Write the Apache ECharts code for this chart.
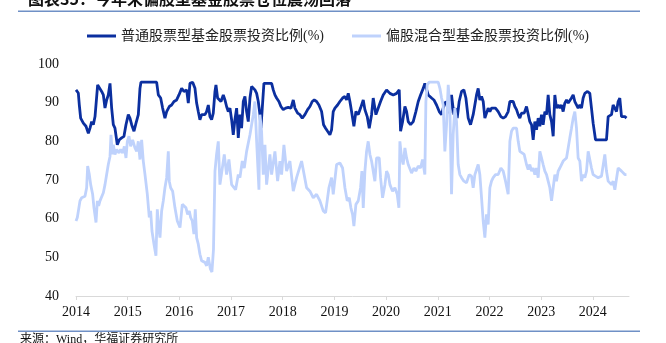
<!DOCTYPE html>
<html>
<head>
<meta charset="utf-8">
<script src="https://cdn.jsdelivr.net/npm/echarts@6/dist/echarts.min.js"></script>
<style>
  html, body { margin: 0; padding: 0; background: #fff; }
  #chart { width: 666px; height: 343px; }
</style>
</head>
<body>
<div id="chart"></div>
<script>
// Series names (legend)
const seriesNames = ['普通股票型基金股票投资比例(%)', '偏股混合型基金股票投资比例(%)'];

// Year ticks along the x axis
const yearTicks = [2014, 2015, 2016, 2017, 2018, 2019, 2020, 2021, 2022, 2023, 2024];

// Y axis range
const yMin = 40, yMax = 100, yStep = 10;

// 普通股票型基金股票投资比例 [decimal year, %]
const stockFundRatio = [
  [2014.000,93.3],[2014.045,92.5],[2014.064,89.4],[2014.090,86.0],[2014.142,84.7],[2014.193,83.9],
  [2014.239,82.1],[2014.271,83.4],[2014.303,85.1],[2014.335,84.3],[2014.368,86.4],[2014.400,86.9],
  [2014.419,94.6],[2014.451,94.8],[2014.496,92.9],[2014.529,92.0],[2014.561,88.6],[2014.593,90.7],
  [2014.625,92.0],[2014.658,95.0],[2014.690,88.6],[2014.722,84.3],[2014.754,83.4],[2014.799,79.1],
  [2014.838,80.4],[2014.883,80.9],[2014.928,81.3],[2014.967,84.3],[2015.012,86.9],[2015.044,86.0],
  [2015.077,84.3],[2015.122,82.6],[2015.161,84.7],[2015.206,86.9],[2015.238,93.7],[2015.257,95.3],
  [2015.560,95.3],[2015.593,92.0],[2015.638,91.2],[2015.676,88.6],[2015.721,86.0],[2015.754,87.7],
  [2015.805,89.0],[2015.850,89.4],[2015.896,90.3],[2015.947,90.7],[2015.992,92.0],[2016.044,93.7],
  [2016.089,92.9],[2016.141,93.3],[2016.173,89.9],[2016.205,95.0],[2016.257,95.3],[2016.302,93.7],
  [2016.334,89.9],[2016.366,87.7],[2016.398,85.6],[2016.431,86.9],[2016.495,86.9],[2016.527,87.7],
  [2016.560,89.4],[2016.592,86.4],[2016.624,85.6],[2016.656,87.3],[2016.689,92.9],[2016.708,94.6],
  [2016.740,91.2],[2016.766,91.6],[2016.805,90.3],[2016.850,92.0],[2016.882,90.7],[2016.914,89.0],
  [2016.946,87.7],[2016.979,88.6],[2017.011,85.6],[2017.043,81.7],[2017.075,85.6],[2017.108,88.6],
  [2017.140,80.9],[2017.172,86.9],[2017.204,83.4],[2017.237,90.3],[2017.269,91.6],[2017.301,87.7],
  [2017.333,85.1],[2017.366,91.2],[2017.398,94.2],[2017.430,93.7],[2017.462,93.3],[2017.495,92.4],
  [2017.527,90.3],[2017.559,86.9],[2017.578,83.4],[2017.604,88.6],[2017.636,95.0],[2017.785,95.0],
  [2017.817,93.3],[2017.849,92.0],[2017.881,91.2],[2017.926,90.3],[2017.965,89.0],[2018.010,88.2],
  [2018.056,88.6],[2018.107,88.8],[2018.159,88.6],[2018.204,90.7],[2018.236,88.6],[2018.288,87.3],
  [2018.333,86.9],[2018.378,86.0],[2018.429,86.9],[2018.481,88.2],[2018.526,89.0],[2018.571,90.3],
  [2018.610,90.7],[2018.655,90.3],[2018.700,89.4],[2018.752,87.7],[2018.790,84.3],[2018.829,83.4],
  [2018.868,82.6],[2018.913,81.7],[2018.945,83.0],[2018.977,87.7],[2019.010,88.6],[2019.061,89.4],
  [2019.106,90.3],[2019.158,91.2],[2019.203,91.6],[2019.235,90.7],[2019.268,92.4],[2019.300,90.3],
  [2019.332,87.7],[2019.377,83.9],[2019.416,87.7],[2019.461,86.9],[2019.506,88.6],[2019.558,90.7],
  [2019.590,88.2],[2019.635,86.4],[2019.674,83.4],[2019.719,86.9],[2019.751,91.2],[2019.803,86.9],
  [2019.848,88.6],[2019.893,90.3],[2019.944,92.0],[2020.009,93.3],[2020.074,92.4],[2020.138,92.0],
  [2020.203,92.4],[2020.254,93.3],[2020.280,82.6],[2020.319,85.1],[2020.364,89.0],[2020.396,87.7],
  [2020.428,85.1],[2020.473,84.3],[2020.525,85.1],[2020.576,87.7],[2020.622,90.3],[2020.667,92.0],
  [2020.718,93.7],[2020.750,95.0],[2020.783,95.0],[2020.815,92.0],[2020.847,92.4],[2020.880,91.2],
  [2020.925,90.7],[2020.976,89.4],[2021.028,87.7],[2021.073,86.9],[2021.105,88.6],[2021.157,90.3],
  [2021.202,89.4],[2021.234,87.3],[2021.266,92.0],[2021.311,86.9],[2021.350,88.6],[2021.376,86.0],
  [2021.414,90.3],[2021.460,92.9],[2021.505,93.3],[2021.544,91.2],[2021.589,86.0],[2021.634,84.3],
  [2021.685,86.9],[2021.750,92.0],[2021.782,93.7],[2021.814,90.7],[2021.847,91.6],[2021.879,90.3],
  [2021.911,86.0],[2021.943,87.3],[2021.975,88.6],[2022.008,87.7],[2022.040,88.6],[2022.072,88.2],
  [2022.117,88.6],[2022.169,87.7],[2022.221,86.4],[2022.266,86.0],[2022.311,86.4],[2022.362,87.7],
  [2022.395,90.3],[2022.427,90.7],[2022.459,90.3],[2022.491,89.0],[2022.524,88.2],[2022.556,86.9],
  [2022.588,86.0],[2022.620,87.3],[2022.672,87.3],[2022.717,89.0],[2022.749,88.6],[2022.781,85.1],
  [2022.814,84.3],[2022.846,80.4],[2022.878,85.1],[2022.910,83.0],[2022.943,86.0],[2022.975,83.9],
  [2023.007,86.9],[2023.039,84.3],[2023.072,87.7],[2023.104,86.9],[2023.136,92.0],[2023.168,86.9],
  [2023.201,85.1],[2023.233,81.3],[2023.265,92.0],[2023.297,88.6],[2023.330,89.4],[2023.362,88.6],
  [2023.394,89.4],[2023.426,87.7],[2023.458,89.9],[2023.491,90.7],[2023.523,89.9],[2023.555,89.4],
  [2023.587,91.2],[2023.620,92.0],[2023.652,90.3],[2023.684,90.7],[2023.716,88.6],[2023.749,89.4],
  [2023.781,88.6],[2023.813,91.2],[2023.845,92.4],[2023.897,92.9],[2023.942,92.4],[2023.974,88.6],
  [2024.006,84.7],[2024.052,80.4],[2024.264,80.4],[2024.297,86.4],[2024.329,86.0],[2024.361,86.9],
  [2024.393,89.4],[2024.426,88.6],[2024.458,87.7],[2024.490,90.3],[2024.522,91.2],[2024.555,86.4],
  [2024.587,86.0],[2024.619,86.4],[2024.651,86.0]
];

// 偏股混合型基金股票投资比例 [decimal year, %]
const mixedFundRatio = [
  [2014.000,59.4],[2014.026,60.3],[2014.058,60.7],[2014.077,64.6],[2014.110,65.4],[2014.142,65.0],
  [2014.174,65.8],[2014.206,68.0],[2014.226,73.6],[2014.258,71.4],[2014.284,68.8],[2014.322,66.3],
  [2014.348,62.8],[2014.387,59.0],[2014.413,64.6],[2014.438,63.3],[2014.464,64.6],[2014.496,65.0],
  [2014.529,66.7],[2014.561,68.8],[2014.593,71.4],[2014.625,74.0],[2014.658,76.1],[2014.677,81.7],
  [2014.703,76.6],[2014.722,79.1],[2014.754,76.6],[2014.787,77.9],[2014.832,77.0],[2014.864,77.9],
  [2014.903,77.0],[2014.935,78.7],[2014.967,75.7],[2014.993,80.0],[2015.025,81.3],[2015.057,78.7],
  [2015.096,80.4],[2015.141,78.3],[2015.174,77.4],[2015.206,80.0],[2015.238,75.3],[2015.270,80.4],
  [2015.302,74.9],[2015.335,71.4],[2015.380,66.3],[2015.418,60.3],[2015.444,62.0],[2015.470,56.8],
  [2015.509,53.4],[2015.547,50.4],[2015.573,62.4],[2015.599,57.7],[2015.625,55.1],[2015.657,62.0],
  [2015.689,64.6],[2015.721,68.0],[2015.754,70.6],[2015.786,77.4],[2015.805,69.7],[2015.831,68.0],
  [2015.870,67.1],[2015.915,62.8],[2015.960,59.4],[2016.012,57.7],[2016.057,63.7],[2016.089,64.1],
  [2016.128,62.8],[2016.160,61.1],[2016.192,62.0],[2016.218,60.3],[2016.250,59.4],[2016.282,56.0],
  [2016.308,62.4],[2016.334,55.1],[2016.366,53.4],[2016.398,50.8],[2016.431,49.1],[2016.463,49.5],
  [2016.495,48.7],[2016.527,47.8],[2016.560,50.0],[2016.600,47.0],[2016.630,46.2],[2016.660,52.0],
  [2016.689,72.3],[2016.720,76.6],[2016.753,80.0],[2016.785,68.8],[2016.869,76.6],[2016.914,71.4],
  [2016.959,75.3],[2017.011,68.8],[2017.088,67.5],[2017.140,71.4],[2017.172,70.6],[2017.217,74.9],
  [2017.256,73.1],[2017.301,77.4],[2017.366,81.7],[2017.430,86.9],[2017.462,90.3],[2017.495,80.0],
  [2017.540,67.5],[2017.559,86.9],[2017.591,82.6],[2017.623,71.4],[2017.656,79.1],[2017.688,68.8],
  [2017.752,76.6],[2017.785,71.4],[2017.849,77.4],[2017.901,69.7],[2017.946,74.9],[2017.978,71.4],
  [2018.023,79.1],[2018.075,72.3],[2018.139,74.9],[2018.204,67.1],[2018.268,70.6],[2018.365,74.9],
  [2018.462,68.0],[2018.526,67.1],[2018.591,65.4],[2018.655,66.3],[2018.720,64.6],[2018.784,62.0],
  [2018.829,61.5],[2018.894,68.0],[2018.945,70.6],[2018.977,66.3],[2019.042,74.0],[2019.106,74.4],
  [2019.158,73.1],[2019.203,68.0],[2019.248,64.6],[2019.287,65.4],[2019.319,62.8],[2019.351,61.1],
  [2019.377,58.1],[2019.416,63.7],[2019.461,64.6],[2019.506,68.0],[2019.532,72.3],[2019.558,62.8],
  [2019.590,72.3],[2019.622,77.4],[2019.654,80.0],[2019.687,76.6],[2019.719,74.9],[2019.751,75.3],
  [2019.783,69.7],[2019.816,75.7],[2019.867,75.7],[2019.893,70.6],[2019.932,65.4],[2019.977,68.8],
  [2020.009,72.3],[2020.041,71.4],[2020.074,68.8],[2020.125,67.1],[2020.170,68.0],[2020.215,66.3],
  [2020.248,62.8],[2020.267,80.0],[2020.299,75.7],[2020.331,74.0],[2020.364,78.3],[2020.396,75.7],
  [2020.428,74.0],[2020.460,74.0],[2020.493,71.8],[2020.538,73.1],[2020.576,72.3],[2020.622,73.6],
  [2020.667,73.1],[2020.705,75.3],[2020.750,71.4],[2020.770,90.3],[2020.796,94.6],[2020.834,95.3],
  [2021.008,95.3],[2021.041,93.7],[2021.073,91.2],[2021.105,89.4],[2021.137,77.4],[2021.170,84.3],
  [2021.202,94.6],[2021.234,88.6],[2021.266,66.3],[2021.298,81.7],[2021.331,88.6],[2021.363,85.1],
  [2021.395,74.0],[2021.427,71.4],[2021.460,70.6],[2021.505,69.7],[2021.556,69.3],[2021.608,71.4],
  [2021.653,71.0],[2021.685,68.0],[2021.718,71.4],[2021.750,72.7],[2021.782,74.0],[2021.814,71.4],
  [2021.847,65.4],[2021.879,59.4],[2021.911,55.1],[2021.943,61.1],[2021.975,58.5],[2022.008,68.0],
  [2022.040,69.7],[2022.072,70.6],[2022.117,71.4],[2022.169,71.4],[2022.221,73.1],[2022.266,72.3],
  [2022.311,69.7],[2022.362,66.3],[2022.395,80.0],[2022.427,82.6],[2022.459,83.4],[2022.491,83.9],
  [2022.524,83.4],[2022.556,80.0],[2022.588,77.4],[2022.620,77.0],[2022.672,76.6],[2022.717,74.0],
  [2022.749,72.7],[2022.781,74.0],[2022.814,72.3],[2022.846,73.1],[2022.878,71.4],[2022.910,73.1],
  [2022.943,70.6],[2022.975,77.4],[2023.007,75.7],[2023.039,74.0],[2023.072,72.3],[2023.104,71.4],
  [2023.136,69.7],[2023.168,68.0],[2023.201,64.6],[2023.233,68.0],[2023.265,71.4],[2023.297,69.7],
  [2023.330,72.3],[2023.362,73.1],[2023.394,74.0],[2023.426,74.9],[2023.458,75.3],[2023.491,75.7],
  [2023.523,78.3],[2023.555,80.9],[2023.587,83.4],[2023.620,86.0],[2023.652,87.7],[2023.684,83.4],
  [2023.716,75.7],[2023.749,74.9],[2023.781,69.7],[2023.813,71.4],[2023.845,70.6],[2023.878,72.3],
  [2023.910,77.4],[2023.942,77.9],[2023.974,73.1],[2024.006,71.4],[2024.052,71.0],[2024.103,70.6],
  [2024.168,71.0],[2024.232,76.6],[2024.264,72.3],[2024.297,69.7],[2024.329,69.3],[2024.361,68.8],
  [2024.393,69.7],[2024.426,67.5],[2024.458,67.1],[2024.490,73.1],[2024.522,72.7],[2024.555,72.3],
  [2024.587,71.8],[2024.619,71.4],[2024.651,71.4]
];

const DARK = '#0b2f9f';
const LIGHT = '#bfd2fc';
const RULE = '#6f90c6';
const FONT = "'Liberation Serif', 'Noto Sans CJK SC', serif";

const chart = echarts.init(document.getElementById('chart'), null, { renderer: 'canvas' });

chart.setOption({
  animation: false,
  backgroundColor: '#ffffff',
  textStyle: { fontFamily: FONT },
  graphic: [
    {
      type: 'text', left: 28, top: -9, silent: true,
      style: { text: '图表35：今年来偏股型基金股票仓位震荡回落', fill: '#111', font: "bold 16px 'Noto Sans CJK SC'" }
    },
    { type: 'rect', shape: { x: 18, y: 10.5, width: 622, height: 1.5 }, style: { fill: RULE }, silent: true },
    { type: 'rect', shape: { x: 18, y: 330.5, width: 622, height: 1.5 }, style: { fill: RULE }, silent: true },
    {
      type: 'text', left: 20, top: 334, silent: true,
      style: { text: '来源：Wind，华福证券研究所', fill: '#111', font: "12px 'Liberation Serif', 'Noto Sans CJK SC'" }
    }
  ],
  legend: {
    top: 24,
    left: 82,
    itemWidth: 29,
    itemHeight: 3,
    itemGap: 28,
    icon: 'rect',
    textStyle: { fontFamily: FONT, fontSize: 14, color: '#222' },
    data: seriesNames
  },
  grid: { left: 76, right: 37, top: 64, bottom: 47, containLabel: false },
  xAxis: {
    type: 'value',
    min: 2014,
    max: 2024.7,
    interval: 1,
    splitLine: { show: false },
    axisLine: { show: true, lineStyle: { color: '#d9d9d9', width: 1 } },
    axisTick: { show: true, length: 4, lineStyle: { color: '#d9d9d9' }, customValues: yearTicks },
    axisLabel: {
      customValues: yearTicks,
      color: '#111', fontSize: 14, fontFamily: FONT, margin: 9,
      formatter: v => (Number.isInteger(v) ? String(v) : '')
    }
  },
  yAxis: {
    type: 'value',
    min: yMin,
    max: yMax,
    interval: yStep,
    splitLine: { show: false },
    axisLine: { show: false },
    axisTick: { show: false },
    axisLabel: { color: '#111', fontSize: 14, fontFamily: FONT, margin: 17 }
  },
  series: [
    {
      name: seriesNames[0], type: 'line', data: stockFundRatio,
      symbol: 'none', smooth: false,
      lineStyle: { color: DARK, width: 2.8 }, itemStyle: { color: DARK }
    },
    {
      name: seriesNames[1], type: 'line', data: mixedFundRatio,
      symbol: 'none', smooth: false,
      lineStyle: { color: LIGHT, width: 2.8 }, itemStyle: { color: LIGHT }
    }
  ]
});
</script>
</body>
</html>
